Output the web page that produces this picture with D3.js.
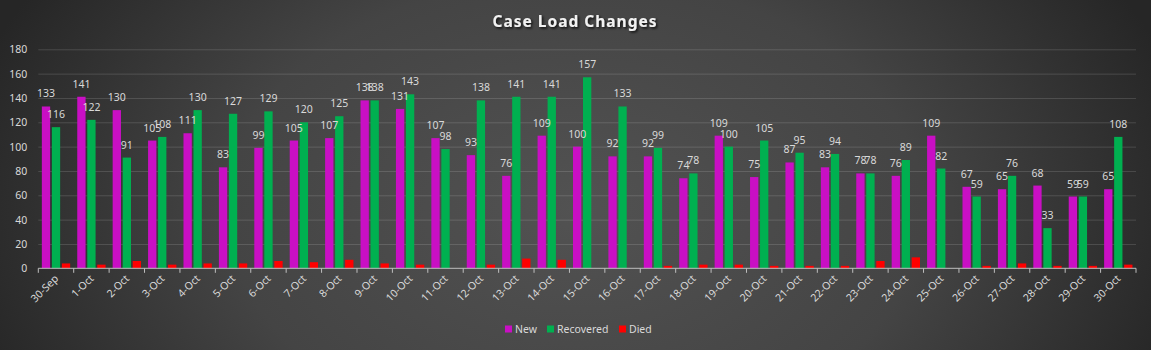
<!DOCTYPE html>
<html>
<head>
<meta charset="utf-8">
<title>Case Load Changes</title>
<script src="https://cdn.jsdelivr.net/npm/d3@7"></script>
<style>
    html, body {
        margin: 0;
        padding: 0;
        background: #2b2b2b;
    }
    #canvas {
        width: 1151px;
        height: 350px;
    }
    text {
        font-family: "Noto Sans", "Open Sans", sans-serif;
    }
</style>
</head>
<body>
<div id="canvas"></div>
<script>
/* Data */
const dates = [
    '30-Sep', '1-Oct', '2-Oct', '3-Oct', '4-Oct', '5-Oct', '6-Oct', '7-Oct', '8-Oct', '9-Oct',
    '10-Oct', '11-Oct', '12-Oct', '13-Oct', '14-Oct', '15-Oct', '16-Oct', '17-Oct', '18-Oct', '19-Oct',
    '20-Oct', '21-Oct', '22-Oct', '23-Oct', '24-Oct', '25-Oct', '26-Oct', '27-Oct', '28-Oct', '29-Oct',
    '30-Oct'
];
const newCases = [133, 141, 130, 105, 111, 83, 99, 105, 107, 138, 131, 107, 93, 76, 109, 100, 92, 92, 74, 109, 75, 87, 83, 78, 76, 109, 67, 65, 68, 59, 65];
const recovered = [116, 122, 91, 108, 130, 127, 129, 120, 125, 138, 143, 98, 138, 141, 141, 157, 133, 99, 78, 100, 105, 95, 94, 78, 89, 82, 59, 76, 33, 59, 108];
const died = [4, 3, 6, 3, 4, 4, 6, 5, 7, 4, 3, 0, 3, 8, 7, 0, 0, 2, 3, 3, 2, 2, 2, 6, 9, 0, 2, 4, 2, 2, 3];
const seriesNames = ['New', 'Recovered', 'Died'];
const seriesColors = ['#c90fc4', '#00b050', '#ff0000'];
const labelledSeries = ['New', 'Recovered'];
const yTicks = [0, 20, 40, 60, 80, 100, 120, 140, 160, 180];

function initChart() {
    'use strict';

    const config = {
        width: 1151,
        height: 350,
        plotLeft: 38.3,
        plotRight: 1136,
        plotTop: 49.3,
        plotBottom: 268.3,
        textColor: '#d9d9d9',
        fontSize: 10.5
    };

    const rows = dates.map((d, i) => ({
        date: d,
        New: newCases[i],
        Recovered: recovered[i],
        Died: died[i]
    }));

    const svg = d3.select('#canvas').append('svg')
        .attr('width', config.width)
        .attr('height', config.height);

    /* Background */
    const defs = svg.append('defs');
    const grad = defs.append('radialGradient')
        .attr('id', 'bg')
        .attr('cx', '50%').attr('cy', '60%')
        .attr('r', '55%')
        .attr('gradientTransform', 'translate(0.5,0.6) scale(1,2.2) translate(-0.5,-0.6)');
    grad.append('stop').attr('offset', '0%').attr('stop-color', '#525252');
    grad.append('stop').attr('offset', '55%').attr('stop-color', '#444444');
    grad.append('stop').attr('offset', '100%').attr('stop-color', '#262626');

    const shadow = defs.append('filter').attr('id', 'shadow')
        .attr('x', '-10%').attr('y', '-30%').attr('width', '120%').attr('height', '160%');
    shadow.append('feDropShadow')
        .attr('dx', 1.5).attr('dy', 1.5).attr('stdDeviation', 1)
        .attr('flood-color', '#000').attr('flood-opacity', 0.8);

    svg.append('rect')
        .attr('width', config.width)
        .attr('height', config.height)
        .attr('fill', 'url(#bg)');

    /* Scales */
    const x0 = d3.scaleBand()
        .domain(dates)
        .range([config.plotLeft, config.plotRight])
        .paddingInner(0.2)
        .paddingOuter(0.1);

    const x1 = d3.scaleBand()
        .domain(seriesNames)
        .range([0, x0.bandwidth()])
        .paddingInner(0.17);

    const y = d3.scaleLinear()
        .domain([0, 180])
        .range([config.plotBottom, config.plotTop]);

    const color = d3.scaleOrdinal().domain(seriesNames).range(seriesColors);

    /* Gridlines + y labels */
    const yAxis = d3.axisLeft(y)
        .tickValues(yTicks)
        .tickSize(-(config.plotRight - config.plotLeft))
        .tickPadding(11);

    const yG = svg.append('g')
        .attr('transform', `translate(${config.plotLeft},0)`)
        .call(yAxis);
    yG.select('.domain').remove();
    yG.selectAll('.tick line')
        .attr('stroke', '#ffffff')
        .attr('stroke-opacity', d => d === 0 ? 0 : 0.14);
    yG.selectAll('.tick text')
        .attr('fill', config.textColor)
        .attr('font-size', config.fontSize);

    /* Bars */
    const groups = svg.append('g')
        .selectAll('g')
        .data(rows)
        .join('g')
        .attr('transform', d => `translate(${x0(d.date)},0)`);

    groups.selectAll('rect')
        .data(d => seriesNames.map(k => ({ key: k, value: d[k] })))
        .join('rect')
        .attr('x', d => x1(d.key))
        .attr('y', d => y(d.value))
        .attr('width', x1.bandwidth())
        .attr('height', d => y(0) - y(d.value))
        .attr('fill', d => color(d.key));

    /* Data labels */
    groups.selectAll('text')
        .data(d => labelledSeries.map(k => ({ key: k, value: d[k] })))
        .join('text')
        .attr('x', d => x1(d.key) + x1.bandwidth() / 2)
        .attr('y', d => y(d.value) - 9)
        .attr('text-anchor', 'middle')
        .attr('fill', config.textColor)
        .attr('font-size', config.fontSize)
        .text(d => d.value);

    /* X axis */
    const boundaries = dates.map(d => x0(d) - x0.step() * x0.paddingInner() / 2)
        .concat([config.plotRight]);

    const xG = svg.append('g');
    xG.append('line')
        .attr('x1', config.plotLeft).attr('x2', config.plotRight)
        .attr('y1', y(0)).attr('y2', y(0))
        .attr('stroke', '#bfbfbf');
    xG.selectAll('line.tick')
        .data(boundaries)
        .join('line')
        .attr('class', 'tick')
        .attr('x1', d => d).attr('x2', d => d)
        .attr('y1', y(0)).attr('y2', y(0) + 4.5)
        .attr('stroke', '#bfbfbf');

    xG.selectAll('text')
        .data(dates)
        .join('text')
        .attr('transform', d => `translate(${x0(d) + x0.bandwidth() / 2 + 3},${y(0) + 11}) rotate(-45)`)
        .attr('text-anchor', 'end')
        .attr('fill', config.textColor)
        .attr('font-size', config.fontSize)
        .text(d => d);

    /* Title */
    svg.append('text')
        .attr('x', 575)
        .attr('y', 27)
        .attr('text-anchor', 'middle')
        .attr('fill', '#f2f2f2')
        .attr('font-size', 15.5)
        .attr('font-weight', 'bold')
        .attr('letter-spacing', 1)
        .attr('filter', 'url(#shadow)')
        .text('Case Load Changes');

    /* Legend */
    const legendItems = [
        { name: 'New', x: 505 },
        { name: 'Recovered', x: 547 },
        { name: 'Died', x: 619 }
    ];
    const legend = svg.append('g')
        .selectAll('g')
        .data(legendItems)
        .join('g')
        .attr('transform', d => `translate(${d.x},329)`);
    legend.append('rect')
        .attr('x', 0).attr('y', -3.5)
        .attr('width', 7).attr('height', 7)
        .attr('fill', d => color(d.name));
    legend.append('text')
        .attr('x', 10)
        .attr('y', 3.8)
        .attr('fill', config.textColor)
        .attr('font-size', config.fontSize)
        .text(d => d.name);
}

if (document.readyState === 'loading') {
    document.addEventListener('DOMContentLoaded', initChart);
} else {
    initChart();
}
</script>
</body>
</html>
